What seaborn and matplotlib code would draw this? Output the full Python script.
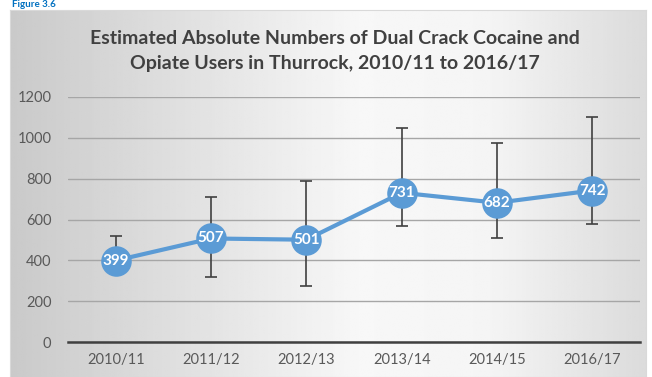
import numpy as np
import pandas as pd
import matplotlib
matplotlib.use("Agg")
import matplotlib.pyplot as plt
import seaborn as sns

# values
years = ["2010/11", "2011/12", "2012/13", "2013/14", "2014/15", "2016/17"]
users = [399, 507, 501, 731, 682, 742]
upper = [520, 710, 790, 1050, 975, 1100]
lower = [340, 320, 275, 570, 510, 580]

df = pd.DataFrame({"year": years, "users": users})

sns.set_style("white")
plt.rcParams["font.family"] = ["Lato", "DejaVu Sans"]

blue = "#5b9bd5"
W, H = 652, 377
fig = plt.figure(figsize=(W / 100, H / 100), dpi=100)

# gradient background of the chart box
bg = fig.add_axes([10 / W, 0, 636 / W, 367 / H])
xs = np.linspace(0, 1, 300)
shade = np.interp(xs, [0, 0.55, 0.75, 1], [0.79, 0.97, 0.96, 0.86])
grad = np.tile(shade, (20, 1))
bg.imshow(grad, cmap="gray", vmin=0, vmax=1, aspect="auto", extent=[0, 1, 0, 1])
bg.set_xticks([])
bg.set_yticks([])
for s in bg.spines.values():
    s.set_color("#d9d9d9")

fig.text(12 / W, 1.0, "Figure 3.6", color="#0070c0", fontsize=7,
         fontweight="bold", va="top", ha="left")

ax = fig.add_axes([68 / W, 35 / H, 572 / W, 245 / H])
ax.patch.set_alpha(0)

x = np.arange(len(years))
err = [np.array(users) - np.array(lower), np.array(upper) - np.array(users)]
ax.errorbar(x, users, yerr=err, fmt="none", ecolor="#404040", elinewidth=1.2,
            capsize=4, capthick=1.2, zorder=2)
sns.lineplot(data=df, x="year", y="users", ax=ax, color=blue, linewidth=3,
             marker="o", markersize=22, markeredgewidth=0, sort=False, zorder=3)
for xi, v in zip(x, users):
    ax.text(xi, v, str(v), color="white", fontsize=11, fontweight="bold",
            ha="center", va="center", zorder=4)

ax.set_xlim(-0.5, len(years) - 0.5)
ax.set_ylim(0, 1200)
ax.set_yticks(range(0, 1201, 200))
ax.yaxis.grid(True, color="#a6a6a6", linewidth=1)
ax.set_axisbelow(True)
ax.set_xlabel("")
ax.set_ylabel("")
ax.set_xticks(x)
ax.set_xticklabels(years)
ax.set_xticks(np.arange(-0.5, len(years), 1), minor=True)
ax.tick_params(axis="x", which="major", length=0, labelsize=10.5, colors="#595959", pad=8)
ax.tick_params(axis="x", which="minor", length=4, width=1.5, color="#404040", direction="out")
ax.tick_params(axis="y", length=0, labelsize=10.5, colors="#595959", pad=12)
for s in ["top", "right", "left"]:
    ax.spines[s].set_visible(False)
ax.spines["bottom"].set_color("#404040")
ax.spines["bottom"].set_linewidth(1.8)

fig.text(335 / W, 1 - 51 / H, "Estimated Absolute Numbers of Dual Crack Cocaine and\nOpiate Users in Thurrock, 2010/11 to 2016/17",
         ha="center", va="center", fontsize=14, fontweight="bold", color="#404040",
         linespacing=1.5)

fig.savefig("out.png", dpi=100)
